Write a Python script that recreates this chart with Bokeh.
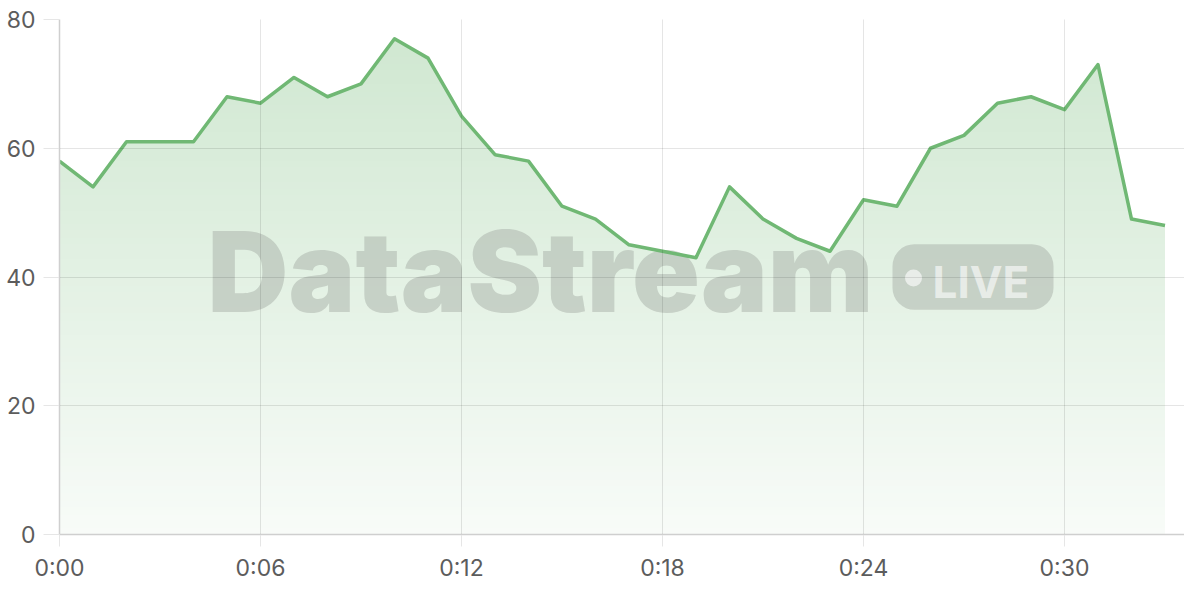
import numpy as np
from bokeh.plotting import figure
from bokeh.models import Range1d, FixedTicker, Label, BoxAnnotation
from bokeh.embed import file_html
from bokeh.resources import INLINE
from bokeh.core.properties import value

# ---- data ----
minutes = [0, 1, 2, 3, 4, 5, 6, 7, 8, 9, 10, 11, 12, 13, 14, 15, 16,
           17, 18, 19, 20, 21, 22, 23, 24, 25, 26, 27, 28, 29, 30, 31, 32, 33]
values = [58, 54, 61, 61, 61, 68, 67, 71, 68, 70, 77, 74, 65, 59, 58, 51, 49,
          45, 44, 43, 54, 49, 46, 44, 52, 51, 60, 62, 67, 68, 66, 73, 49, 48]
x_ticks = [0, 6, 12, 18, 24, 30]
x_tick_labels = ["0:00", "0:06", "0:12", "0:18", "0:24", "0:30"]
y_ticks = [0, 20, 40, 60, 80]
y_max = 80

# ---- layout ----
W, H = 1184, 584
ML, MR, MT, MB = 59, 0, 19, 47
frame_w = W - ML - MR
frame_h = H - MT - MB
px_per_min = 33.5
x_end = frame_w / px_per_min
ppu = frame_h / y_max

LINE = "#70b874"
FONT = "Inter"

p = figure(width=W, height=H, x_range=Range1d(0, x_end), y_range=Range1d(0, y_max),
           output_backend="svg", toolbar_location=None,
           min_border_left=ML, min_border_right=MR, min_border_top=MT, min_border_bottom=MB)
p.outline_line_color = None
p.background_fill_color = "white"
p.border_fill_color = "white"


# frame-pixel helpers for the decorative watermark (offsets from the frame centre)
cy = frame_h / 2


def X(px):
    return px / px_per_min


def Y(dpy):
    # dpy: pixels below the frame's vertical centre
    return y_max - (cy + dpy) / ppu


# gradient fill under the line
N = 256
rgba = np.zeros((N, 2), dtype=np.uint32)
view = rgba.view(dtype=np.uint8).reshape((N, 2, 4))
t = np.linspace(0.0, 1.0, N)[:, None]
alpha = 0.05 + (0.33 - 0.05) * t
view[:, :, 0] = 0x70
view[:, :, 1] = 0xB8
view[:, :, 2] = 0x74
view[:, :, 3] = np.round(alpha * 255).astype(np.uint8)
p.image_rgba(image=[rgba], x=minutes[0], y=0, dw=minutes[-1] - minutes[0], dh=max(values),
             level="image")
# white above the line (clears the gradient outside the area)
p.varea(x=minutes, y1=values, y2=y_max, fill_color="white", level="image")

# watermark
WM = "#a8b0a8"
wm = Label(x=X(481), y=Y(-6), text="DataStream", text_align="center",
           text_baseline="alphabetic", text_font="Inter Black, Inter", text_font_style="bold",
           text_font_size="112px", text_color=WM, text_alpha=0.5, level="underlay")
p.add_layout(wm)
badge = BoxAnnotation(left=X(833), right=X(994), bottom=Y(33), top=Y(-33),
                      fill_color=WM, fill_alpha=0.5, line_color=None, border_radius=22,
                      level="underlay")
p.add_layout(badge)
p.scatter(x=[X(854)], y=[Y(1)], size=17, marker="circle", fill_color="white",
          fill_alpha=0.62, line_color=None)
p.text(x=[X(873)], y=[Y(5)], text=["LIVE"], text_font=value(FONT), text_font_style="bold",
       text_font_size="44px", text_color="white", text_alpha=0.6,
       text_baseline="alphabetic", text_align="left")

# the series line
p.line(minutes, values, line_color=LINE, line_width=3.5, line_join="round")

# axes
p.xaxis.ticker = FixedTicker(ticks=x_ticks)
p.xaxis.major_label_overrides = dict(zip(x_ticks, x_tick_labels))
p.yaxis.ticker = FixedTicker(ticks=y_ticks)
for ax in (p.xaxis, p.yaxis):
    ax.axis_line_color = "#cfcfcf"
    ax.axis_line_width = 1.5
    ax.major_tick_in = 0
    ax.major_tick_line_color = "#e6e6e6"
    ax.minor_tick_line_color = None
    ax.major_label_text_font = FONT
    ax.major_label_text_font_size = "23px"
    ax.major_label_text_color = "#5c5c5c"
p.xaxis.major_tick_out = 12
p.xaxis.major_label_standoff = 7
p.yaxis.major_tick_out = 16
p.yaxis.major_label_standoff = 8

# grid on top with translucency so it shows through the fill
p.xgrid.ticker = FixedTicker(ticks=x_ticks)
p.ygrid.ticker = FixedTicker(ticks=y_ticks)
for g in (p.xgrid, p.ygrid):
    g.grid_line_color = "black"
    g.grid_line_alpha = 0.1
    g.level = "overlay"

open("out.html", "w").write(file_html(p, INLINE))
